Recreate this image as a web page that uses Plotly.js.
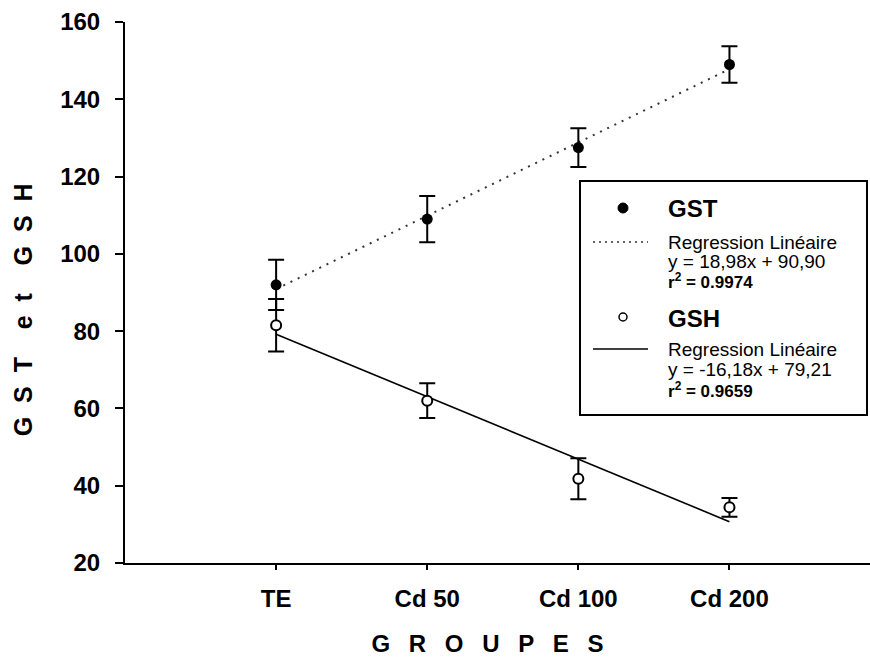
<!DOCTYPE html>
<html>
<head>
<meta charset="utf-8">
<script src="https://cdn.plot.ly/plotly-3.0.1.min.js"></script>
<style>html,body{margin:0;padding:0;background:#fff;}#chart{width:870px;height:662px;}</style>
</head>
<body>
<div id="chart"></div>
<script>
// ---- data ----
const categories = ['TE', 'Cd 50', 'Cd 100', 'Cd 200'];
const gst = [92, 109, 127.5, 149];
const gstErr = [6.5, 6, 5, 4.7];
const gsh = [81.5, 62, 41.8, 34.4];
const gshErr = [6.8, 4.5, 5.3, 2.4];
// regression lines (values of the fitted equations shown in the legend)
const gstFit = [90.9, 109.9, 128.9, 147.8];
const gshFit = [79.2, 63.0, 46.9, 30.7];
const yTicks = [20, 40, 60, 80, 100, 120, 140, 160];

const FONT = 'Liberation Sans, Arial, sans-serif';
const W = 870, H = 662;
const M = {l: 125, r: 0, t: 22, b: 99};
const PW = W - M.l - M.r, PH = H - M.t - M.b;
const fx = px => (px - M.l) / PW;
const fy = py => (H - M.b - py) / PH;

const traces = [
  {x: categories, y: gstFit, type: 'scatter', mode: 'lines',
   line: {color: '#333', width: 2, dash: '2px,6px'}, hoverinfo: 'skip', showlegend: false},
  {x: categories, y: gshFit, type: 'scatter', mode: 'lines',
   line: {color: '#000', width: 1.6}, hoverinfo: 'skip', showlegend: false},
  {x: categories, y: gst, type: 'scatter', mode: 'markers', name: 'GST',
   marker: {color: '#000', size: 11},
   error_y: {type: 'data', array: gstErr, visible: true, color: '#000', thickness: 2, width: 8},
   showlegend: false},
  {x: categories, y: gsh, type: 'scatter', mode: 'markers', name: 'GSH',
   marker: {color: '#fff', size: 10, line: {color: '#000', width: 2}},
   error_y: {type: 'data', array: gshErr, visible: true, color: '#000', thickness: 2, width: 8},
   showlegend: false}
];

// legend drawn as a boxed key
const shapes = [
  {type: 'rect', xref: 'paper', yref: 'paper', x0: fx(580), x1: fx(867), y0: fy(415), y1: fy(181),
   line: {color: '#000', width: 2}, fillcolor: '#fff', layer: 'above'},
  {type: 'circle', xref: 'paper', yref: 'paper', x0: fx(618), x1: fx(628), y0: fy(213), y1: fy(203),
   line: {color: '#000', width: 1}, fillcolor: '#000'},
  {type: 'line', xref: 'paper', yref: 'paper', x0: fx(593), x1: fx(648), y0: fy(242), y1: fy(242),
   line: {color: '#333', width: 1.5, dash: '2px,4px'}},
  {type: 'circle', xref: 'paper', yref: 'paper', x0: fx(619), x1: fx(627), y0: fy(321), y1: fy(313),
   line: {color: '#000', width: 1.5}, fillcolor: '#fff'},
  {type: 'line', xref: 'paper', yref: 'paper', x0: fx(593), x1: fx(648), y0: fy(349), y1: fy(349),
   line: {color: '#000', width: 1.6}}
];

function txt(text, px, py, size, bold) {
  return {text: bold ? '<b>' + text + '</b>' : text, xref: 'paper', yref: 'paper',
    x: fx(px), y: fy(py), xanchor: 'left', yanchor: 'middle', showarrow: false,
    borderpad: 0,
    font: {family: FONT, size: size, color: '#000'}};
}
const annotations = [
  txt('GST', 667, 208, 24, true),
  txt('Regression Linéaire', 667, 242, 19, false),
  txt('y = 18,98x + 90,90', 667, 261, 19, false),
  txt('r<sup>2</sup> = 0.9974', 667, 281, 17, true),
  txt('GSH', 667, 318, 24, true),
  txt('Regression Linéaire', 667, 349, 19, false),
  txt('y = -16,18x + 79,21', 667, 369, 19, false),
  txt('r<sup>2</sup> = 0.9659', 667, 390, 17, true)
];

const N = '\u00A0', E = '\u2002', Z = '\u200B';
const xTitle = ['G', 'R', 'O', 'U', 'P', 'E', 'S'].join(E + N) + N + N + N + Z;
const yTitle = 'G' + N+N + 'S' + N+N + 'T' + N+N+N+N + 'e' + N+N + 't' + N+N+N+N + 'G' + N+N + 'S' + N+N + 'H' + N+N+N+N+N + Z;
const layout = {
  width: W, height: H,
  margin: M,
  paper_bgcolor: '#fff', plot_bgcolor: '#fff',
  showlegend: false,
  font: {family: FONT, color: '#000'},
  xaxis: {
    type: 'category', categoryorder: 'array', categoryarray: categories,
    range: [-1.0, 3.93],
    showline: true, linecolor: '#000', linewidth: 2, showgrid: false, zeroline: false,
    ticks: 'outside', ticklen: 5, tickwidth: 2, tickcolor: '#000',
    ticklabelstandoff: 8,
    tickfont: {family: FONT, size: 24, color: '#000', weight: 'bold'},
    title: {text: xTitle, font: {family: FONT, size: 24, color: '#000', weight: 'bold'}, standoff: 24}
  },
  yaxis: {
    range: [20, 160], tickvals: yTicks,
    showline: true, linecolor: '#000', linewidth: 2, showgrid: false, zeroline: false,
    ticks: 'outside', ticklen: 8, tickwidth: 2, tickcolor: '#000',
    ticklabelstandoff: 10,
    tickfont: {family: FONT, size: 24, color: '#000', weight: 'bold'},
    title: {text: yTitle, font: {family: FONT, size: 25, color: '#000', weight: 'bold'}, standoff: 20}
  },
  shapes: shapes,
  annotations: annotations
};

Plotly.newPlot('chart', traces, layout, {displayModeBar: false, staticPlot: true});
</script>
</body>
</html>
